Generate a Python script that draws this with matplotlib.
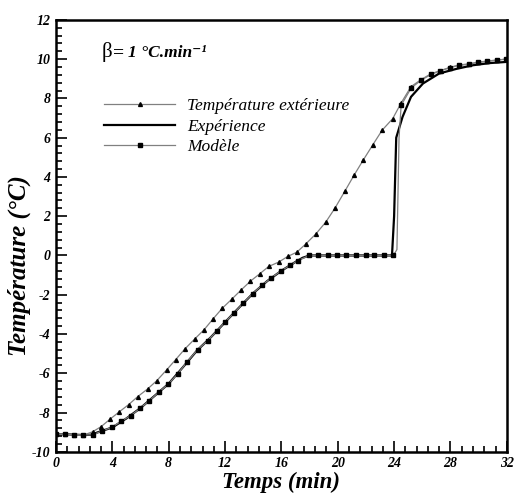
import matplotlib.pyplot as plt
from matplotlib.ticker import MultipleLocator, AutoMinorLocator

# Température extérieure (triangles)
t_ext = [0, 0.65, 1.3, 1.95, 2.6, 3.2, 3.85, 4.5, 5.15, 5.8, 6.5, 7.15, 7.85, 8.5,
         9.15, 9.85, 10.5, 11.15, 11.8, 12.5, 13.15, 13.8, 14.45, 15.1, 15.8, 16.45,
         17.1, 17.75, 18.45, 19.15, 19.8, 20.5, 21.15, 21.8, 22.5, 23.15, 23.9, 24.5,
         25.2, 25.9, 26.6, 27.3, 27.95, 28.6, 29.3, 29.95, 30.6, 31.3, 32.0]
T_ext = [-9.1, -9.1, -9.15, -9.15, -8.98, -8.72, -8.33, -7.96, -7.6, -7.19, -6.8, -6.38,
         -5.83, -5.3, -4.76, -4.25, -3.79, -3.23, -2.69, -2.21, -1.75, -1.31, -0.94, -0.56,
         -0.34, -0.05, 0.17, 0.6, 1.1, 1.7, 2.41, 3.27, 4.08, 4.85, 5.65, 6.38, 6.97, 7.77,
         8.6, 8.95, 9.25, 9.42, 9.58, 9.7, 9.76, 9.85, 9.9, 9.96, 10.0]

# Modèle (carrés)
t_mod = [0, 0.65, 1.3, 1.95, 2.65, 3.28, 3.95, 4.61, 5.3, 5.96, 6.62, 7.28, 7.97, 8.63,
         9.3, 10.05, 10.76, 11.4, 11.99, 12.62, 13.29, 13.95, 14.6, 15.25, 15.94, 16.6,
         17.18, 17.97, 18.6, 19.3, 19.98, 20.6, 21.3, 21.98, 22.6, 23.3, 23.95, 24.2,
         24.35, 24.5, 25.22, 25.93, 26.64, 27.28, 27.94, 28.6, 29.29, 29.95, 30.6, 31.3, 31.96]
T_mod = [-9.1, -9.12, -9.13, -9.15, -9.13, -8.93, -8.76, -8.45, -8.16, -7.79, -7.4, -6.97,
         -6.55, -6.04, -5.42, -4.8, -4.34, -3.86, -3.4, -2.94, -2.43, -1.95, -1.53, -1.16,
         -0.8, -0.51, -0.26, 0, 0, 0, 0, 0, 0, 0, 0, 0, 0, 0.3,
         6.0, 7.65, 8.54, 8.93, 9.23, 9.4, 9.56, 9.68, 9.74, 9.83, 9.88, 9.95, 10.0]
mod_marks = [i for i in range(len(t_mod)) if t_mod[i] not in (24.2, 24.35)]

# Expérience (trait plein)
t_exp = [0, 1, 2, 2.5, 3, 3.5, 4, 5, 6, 7, 8, 9, 10, 11, 12, 13, 14, 15, 16, 17, 17.5,
         18, 20, 22, 23.85, 24.0, 24.15, 24.6, 25.2, 26.05, 27.2, 28.4, 29.6, 30.8, 32]
T_exp = [-9.1, -9.12, -9.15, -9.13, -9.0, -8.88, -8.76, -8.3, -7.77, -7.15, -6.53, -5.7,
         -4.85, -4.16, -3.4, -2.65, -1.92, -1.3, -0.78, -0.33, -0.12, 0, 0, 0, 0, 2.0,
         6.0, 7.06, 8.08, 8.76, 9.27, 9.5, 9.69, 9.8, 9.86]

plt.rcParams['font.family'] = ['Liberation Serif', 'DejaVu Serif']
plt.rcParams['axes.unicode_minus'] = False

fig = plt.figure(figsize=(5.14, 4.97), dpi=100)
ax = fig.add_axes([0.109, 0.091, 0.877, 0.869])

ax.plot(t_ext, T_ext, color='#808080', lw=0.9, marker='^', ms=2.8,
        mfc='black', mec='black', label='Température extérieure', zorder=3)
ax.plot(t_exp, T_exp, color='black', lw=1.6, label='Expérience', zorder=2)
ax.plot(t_mod, T_mod, color='#808080', lw=0.9, marker='s', ms=2.7,
        mfc='black', mec='black', markevery=mod_marks, label='Modèle', zorder=4)

ax.set_xlim(0, 32)
ax.set_ylim(-10, 12)
ax.xaxis.set_major_locator(MultipleLocator(4))
ax.yaxis.set_major_locator(MultipleLocator(2))
ax.xaxis.set_minor_locator(AutoMinorLocator(5))
ax.yaxis.set_minor_locator(AutoMinorLocator(5))
ax.tick_params(which='both', direction='in', top=False, right=False, width=1.2)
ax.tick_params(which='major', length=8, labelsize=10, pad=4)
ax.tick_params(which='minor', length=4)
for lab in ax.get_xticklabels() + ax.get_yticklabels():
    lab.set_fontweight('bold')
    lab.set_fontstyle('italic')
for sp in ax.spines.values():
    sp.set_linewidth(1.8)

ax.set_xlabel('Temps (min)', fontsize=16.5, fontweight='bold', fontstyle='italic', labelpad=1)
ax.set_ylabel('Température (°C)', fontsize=18, fontweight='bold', fontstyle='italic')
ax.yaxis.set_label_coords(-0.056, 0.43)

ax.text(0.102, 0.915, 'β', transform=ax.transAxes, fontsize=15)
ax.text(0.126, 0.915, '=', transform=ax.transAxes, fontsize=14, fontweight='bold')
ax.text(0.16, 0.915, '1 °C.min⁻¹', transform=ax.transAxes, fontsize=12.5,
        fontstyle='italic', fontweight='bold')

leg = ax.legend(loc='upper left', bbox_to_anchor=(0.072, 0.855), frameon=False,
                handlelength=4.1, handletextpad=0.7, labelspacing=0.25,
                prop={'size': 12.5, 'style': 'italic'})

fig.savefig('out.png', dpi=100, facecolor='white')
